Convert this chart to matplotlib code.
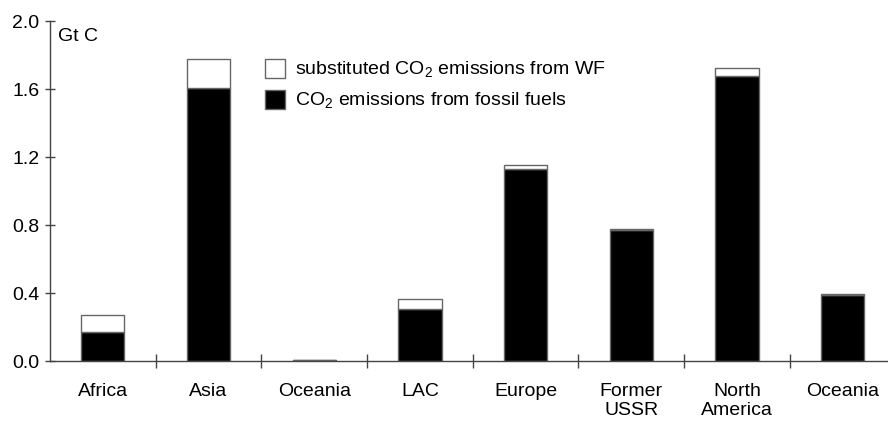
import matplotlib.pyplot as plt
from matplotlib.patches import Patch

plt.rcParams['font.family'] = ['Liberation Sans', 'DejaVu Sans']
plt.rcParams['mathtext.fontset'] = 'custom'
plt.rcParams['mathtext.rm'] = 'Liberation Sans'

# data (Gt C)
regions = ['Africa', 'Asia', 'Oceania', 'LAC', 'Europe', 'Former\nUSSR', 'North\nAmerica', 'Oceania']
fossil = [0.17, 1.606, 0.005, 0.306, 1.129, 0.77, 1.676, 0.39]
total = [0.27, 1.776, 0.006, 0.365, 1.153, 0.776, 1.724, 0.394]
substituted = [t - f for t, f in zip(total, fossil)]

fig = plt.figure(figsize=(8.88, 4.21), dpi=100)
ax = fig.add_axes([0.0563, 0.1425, 0.9437, 0.8075])

edge = '#666666'
x = list(range(len(regions)))
ax.bar(x, fossil, width=0.41, color='black', edgecolor=edge, linewidth=1)
ax.bar(x, substituted, bottom=fossil, width=0.41, color='white', edgecolor=edge, linewidth=1)

ax.set_xlim(-0.5, 7.43)
ax.set_ylim(0, 2.0)
ax.set_yticks([0.0, 0.4, 0.8, 1.2, 1.6, 2.0])
ax.set_yticklabels(['0.0', '0.4', '0.8', '1.2', '1.6', '2.0'])
ax.set_xticks(x)
ax.set_xticklabels(regions, linespacing=1.12)
ax.set_xticks([i + 0.5 for i in range(7)], minor=True)

for s in ['top', 'right']:
    ax.spines[s].set_visible(False)
for s in ['left', 'bottom']:
    ax.spines[s].set_color('#444444')
    ax.spines[s].set_linewidth(1)

ax.tick_params(axis='y', direction='inout', length=7.5, width=1, color='#444444', labelsize=14, pad=4)
ax.tick_params(axis='x', which='major', length=0, labelsize=14, pad=16)
ax.tick_params(axis='x', which='minor', direction='inout', length=10, width=1, color='#444444')

ax.text(0.0095, 0.955, 'Gt C', transform=ax.transAxes, fontsize=14, va='center', ha='left')

handles = [Patch(facecolor='white', edgecolor=edge),
           Patch(facecolor='black', edgecolor=edge)]
labels = ['substituted CO$_\\mathrm{2}$ emissions from WF',
          'CO$_\\mathrm{2}$ emissions from fossil fuels']
ax.legend(handles, labels, loc='upper left', bbox_to_anchor=(0.2566, 0.888), frameon=False,
          fontsize=14, handlelength=1.03, handleheight=1.1, handletextpad=0.5, labelspacing=0.5,
          borderaxespad=0, borderpad=0)

fig.savefig('out.png', dpi=100)
